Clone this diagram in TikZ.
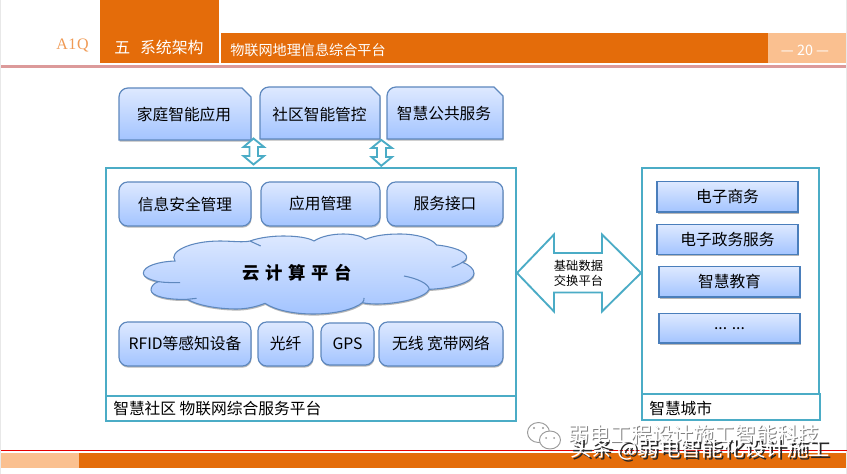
\documentclass[tikz,border=0pt]{standalone}
\usepackage{fontspec}
\setmainfont{Noto Sans CJK SC}
\newfontfamily\brandfont{Liberation Serif}
\usetikzlibrary{shadows}
\definecolor{orangebar}{HTML}{E46C0A}
\definecolor{peach}{HTML}{FAC090}
\definecolor{pinkline}{HTML}{DC9A9A}
\definecolor{teal}{HTML}{4BACC6}
\definecolor{boxtop}{HTML}{DEE9FF}
\definecolor{boxbot}{HTML}{A3C4FF}
\definecolor{boxline}{HTML}{5E88BE}
\definecolor{sqline}{HTML}{4A7EBB}
\tikzset{
  softshadow/.style={drop shadow={shadow xshift=0.4pt,shadow yshift=-1.2pt,opacity=.4,fill=black!70}},
  gradbox/.style={draw=boxline,line width=.9pt,top color=boxtop,bottom color=boxbot,softshadow,inner sep=0pt,font=\fontsize{11.8}{13}\selectfont,text=black},
  roundbox/.style={gradbox,rounded corners=6.5pt},
  sqbox/.style={gradbox,draw=sqline,rounded corners=0pt},
  snipshape/.style={draw=boxline,line width=.9pt,top color=boxtop,bottom color=boxbot,softshadow},
  lab/.style={inner sep=0pt,font=\fontsize{11.8}{13}\selectfont,text=black},
  frame/.style={draw=teal,line width=1.5pt,fill=white},
  blockarrow/.style={draw=teal,line width=1.4pt,fill=white,line join=miter},
  headtext/.style={inner sep=0pt,text=white},
  wmgray/.style={inner sep=0pt,font=\fontsize{15.7}{17}\selectfont},
  wmtop/.style={inner sep=0pt,font=\fontsize{16}{18}\selectfont}
}
% name, x1, y1, x2, y2, style, text
\newcommand{\pxbox}[7]{%
  \pgfmathsetmacro{\bxc}{(#2+#4)/2}\pgfmathsetmacro{\byc}{(#3+#5)/2}%
  \pgfmathsetmacro{\bw}{(#4-#2)*0.75}\pgfmathsetmacro{\bh}{(#5-#3)*0.75}%
  \node[#6,minimum width=\bw pt,minimum height=\bh pt] (#1) at (\bxc,\byc) {#7};}
% snipped top-right box: name, x1, y1, x2, y2, text, text x
\newcommand{\snipbox}[7]{%
  \path[snipshape] (#2,#5) -- (#2,#3+9) arc[start angle=180,end angle=270,radius=9] -- (#4-9,#3) -- (#4,#3+9) -- (#4,#5) -- cycle;
  \node[lab] (#1) at (#7,{(#3+#5)/2+1}) {#6};}
\begin{document}
\begin{tikzpicture}[x=.75pt,y=-.75pt]
\useasboundingbox (0,0) rectangle (847,474);
\fill[white] (0,0) rectangle (847,474);
\fill[black!9] (0,0) rectangle (1,474);
\fill[black!9] (846,0) rectangle (847,474);
% header
\fill[orangebar] (100,0) rectangle (219,63);
\fill[orangebar] (221,33) rectangle (768,63);
\fill[peach] (768,33) rectangle (845.5,63);
\fill[pinkline] (1,65) rectangle (845.5,68);
\node[inner sep=0pt,font=\brandfont\fontsize{12}{13}\selectfont,text=orangebar!45!peach] (brand) at (72.5,46) {A\hspace{.4pt}1\hspace{.4pt}Q};
\node[inner sep=0pt,font=\fontsize{11.9}{13}\selectfont,text=white,anchor=west] (chapter) at (114,47) {五\hspace{7.5pt}系统架构};
\node[headtext,anchor=west,font=\fontsize{10.6}{12}\selectfont] (subject) at (230,50) {物联网地理信息综合平台};
\node[headtext,font=\fontsize{10.8}{12}\selectfont] (pageno) at (805,50.5) {— 20 —};
% top boxes
\snipbox{home}{119}{88}{251}{140}{家庭智能应用}{184}
\snipbox{community}{260}{87}{380}{139}{社区智能管控}{319.5}
\snipbox{public}{387}{87}{503}{139}{智慧公共服务}{444}
% frames
\path[frame] (106,168) rectangle (516,396);
\path[frame] (106,396) rectangle (516,421);
\path[frame] (642,168) rectangle (819,394);
\path[frame] (642,394) rectangle (820,420);
% small block arrows
\path[blockarrow] (253.5,138.5) -- (264,147) -- (258,147) -- (258,156) -- (264,156) -- (253.5,164.5) -- (243.5,156) -- (249.5,156) -- (249.5,147) -- (243.5,147) -- cycle;
\path[blockarrow] (381.3,140) -- (392,148) -- (386,148) -- (386,157) -- (392,157) -- (381.3,165.8) -- (371.5,157) -- (377,157) -- (377,148) -- (371.5,148) -- cycle;
% row 1
\pxbox{security}{119}{182}{251}{226}{roundbox}{信息安全管理}
\pxbox{appmgmt}{261}{182}{380}{226}{roundbox}{应用管理}
\pxbox{service}{387}{182}{503}{226}{roundbox}{服务接口}
% cloud
\begin{scope}[shift={(100,160)},x=.25pt,y=-.25pt]
\path[draw=boxline,line width=.8pt,top color=boxtop,bottom color=boxbot,softshadow]
 (175,365) .. controls (145,358) and (130,350) .. (130,340) .. controls (130,318) and (175,305) .. (225,303)
 .. controls (205,275) and (270,243) .. (360,243) .. controls (395,243) and (430,248) .. (450,243)
 .. controls (480,232) and (520,228) .. (550,228) .. controls (590,228) and (625,233) .. (642,243)
 .. controls (665,228) and (700,222) .. (730,222) .. controls (760,222) and (785,228) .. (797,238)
 .. controls (825,226) and (860,222) .. (900,222) .. controls (950,222) and (995,235) .. (1010,255)
 .. controls (1060,260) and (1100,275) .. (1100,292) .. controls (1100,298) and (1095,303) .. (1087,307)
 .. controls (1110,315) and (1122,328) .. (1122,340) .. controls (1122,365) and (1060,385) .. (988,388)
 .. controls (975,415) and (890,432) .. (830,432) .. controls (815,432) and (800,431) .. (787,428)
 .. controls (760,450) and (700,462) .. (640,462) .. controls (580,462) and (525,450) .. (495,430)
 .. controls (470,440) and (440,447) .. (410,447) .. controls (350,447) and (290,435) .. (262,418)
 .. controls (200,420) and (153,408) .. (153,390) .. controls (153,380) and (160,370) .. (175,365) -- cycle;
\draw[boxline,line width=.8pt] (175,365) .. controls (195,368) and (220,368) .. (240,368);
\draw[boxline,line width=.8pt] (450,243) .. controls (460,248) and (472,253) .. (482,258);
\draw[boxline,line width=.8pt] (1087,307) .. controls (1078,313) and (1066,318) .. (1055,322);
\draw[boxline,line width=.8pt] (988,388) .. controls (985,370) and (950,355) .. (912,348);
\draw[boxline,line width=.8pt] (787,428) .. controls (792,422) and (793,418) .. (792,414);
\draw[boxline,line width=.8pt] (262,418) .. controls (270,417) and (280,416) .. (290,415);
\end{scope}
\node[inner sep=0pt,font=\fontsize{13}{15}\selectfont\bfseries,text=black] (cloudlab) at (297.5,272.5) {云\hspace{4.3pt}计\hspace{4.3pt}算\hspace{4.3pt}平\hspace{4.3pt}台};
% row 3
\pxbox{rfid}{119}{322}{251}{366}{roundbox}{RFID等感知设备}
\pxbox{fiber}{258}{322}{313}{366}{roundbox}{光纤}
\pxbox{gps}{321}{323}{374}{365}{roundbox}{GPS}
\pxbox{wireless}{379}{322}{503}{366}{roundbox}{无线 宽带网络}
% frame captions
\node[lab,anchor=west] (platform) at (113,409) {智慧社区 物联网综合服务平台};
\node[lab,anchor=west] (city) at (649,408) {智慧城市};
% exchange arrow
\path[blockarrow] (517,273) -- (554,234.5) -- (554,253) -- (602,253) -- (602,234.5) -- (641,273) -- (602,311.5) -- (602,292.5) -- (554,292.5) -- (554,311.5) -- cycle;
\node[inner sep=0pt,font=\fontsize{9.2}{11}\selectfont,text=black] (exchangeA) at (578.5,265.5) {基础数据};
\node[inner sep=0pt,font=\fontsize{9.2}{11}\selectfont,text=black] (exchangeB) at (578.5,280.5) {交换平台};
% right boxes
\pxbox{ecommerce}{657}{181.5}{798}{212}{sqbox}{电子商务}
\pxbox{egov}{657}{224.5}{798}{254.5}{sqbox}{电子政务服务}
\pxbox{education}{659}{266.5}{800}{297}{sqbox}{智慧教育}
\pxbox{more}{659}{313.5}{800}{343}{sqbox}{... ...}
% footer
\fill[red!90!black] (1,450) rectangle (847,451);
\fill[peach] (1,453) rectangle (79,468);
\fill[orangebar] (79,453) rectangle (845.5,468);
% watermark
\begin{scope}
\draw[black!40,line width=.7pt,fill=white] (538.5,432.5) ellipse (11 and 10);
\draw[black!40,line width=.7pt,fill=white] (550,440) ellipse (10.5 and 9);
\fill[black!40] (534,428) circle (1.1) (543,428) circle (1.1) (546,438) circle (1) (554,438) circle (1);
\end{scope}
\node[wmgray,text=black!50,anchor=west] (wm1s) at (569,436) {弱电工程设计施工智能科技};
\node[wmgray,text=white,anchor=west] (wm1) at (568,435) {弱电工程设计施工智能科技};
\node[wmtop,text=black!85,anchor=west] (wm2s) at (572,451) {头条 @弱电智能化设计施工};
\node[wmtop,text=white,anchor=west] (wm2) at (570,449.3) {头条 @弱电智能化设计施工};
\end{tikzpicture}
\end{document}
